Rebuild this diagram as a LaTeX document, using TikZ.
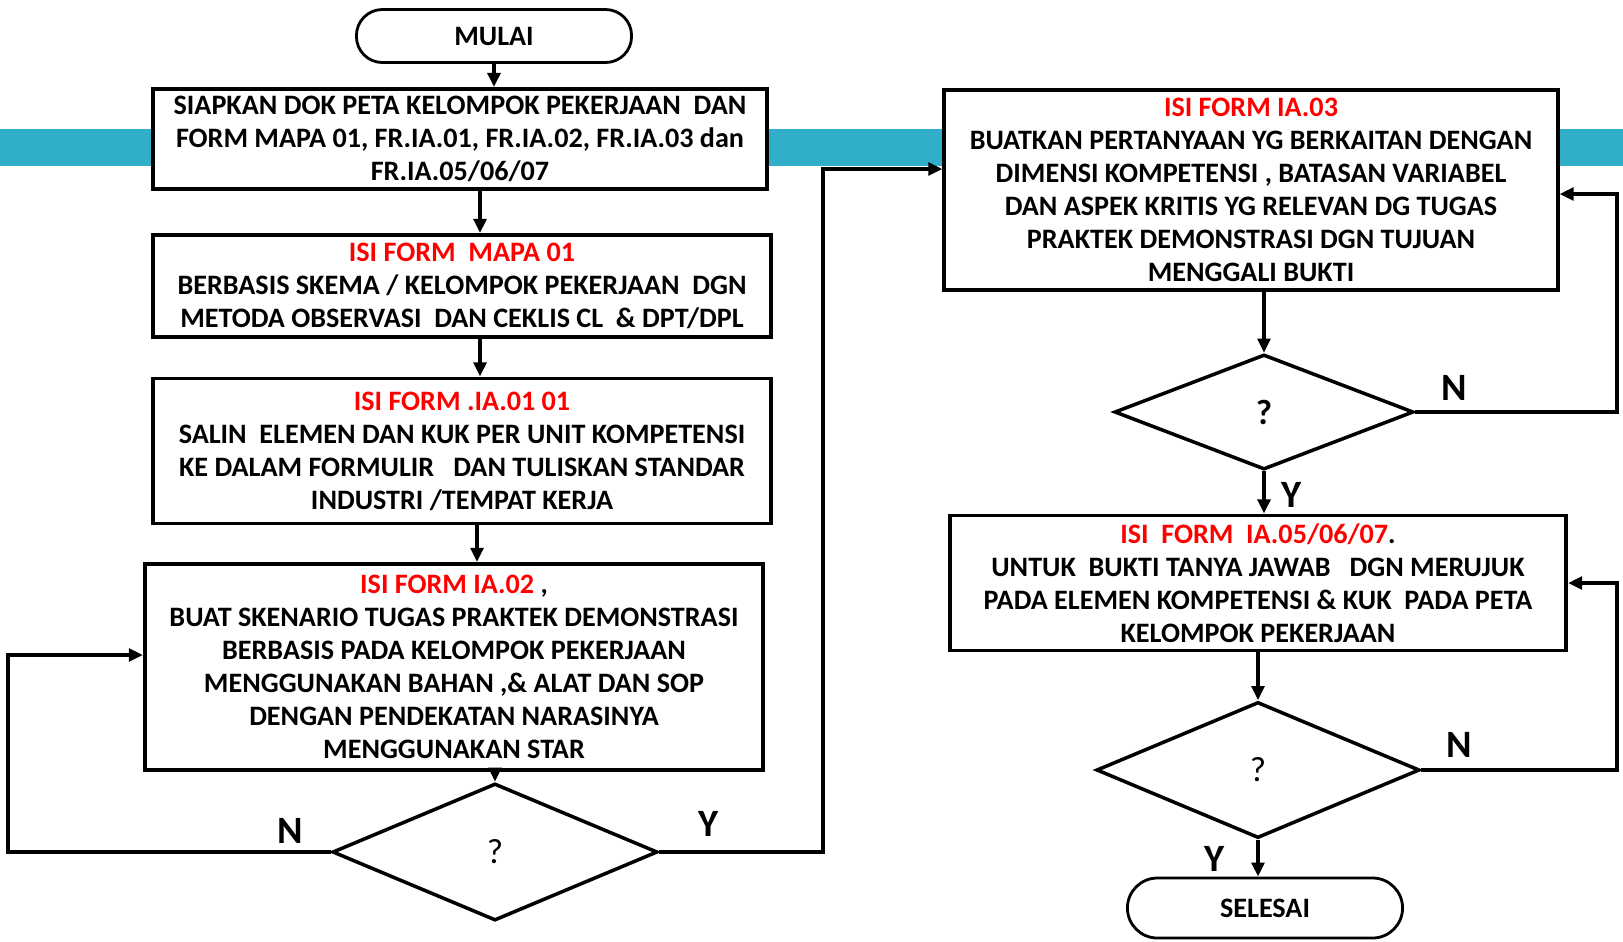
\documentclass[tikz,border=0pt]{standalone}
\usepackage{fontspec}
\setmainfont{Carlito}
\usetikzlibrary{shapes.geometric,arrows.meta}

\definecolor{bandblue}{RGB}{49,174,202}
\newcommand{\red}[1]{\textcolor{red}{#1}}

\tikzstyle{stepbox} = [draw,line width=1.1pt,fill=white,inner sep=0pt,align=center,font=\fontsize{8}{9.4}\selectfont\bfseries]
\tikzstyle{terminal} = [draw,line width=0.8pt,fill=white,rounded corners=0.26cm,inner sep=0pt,font=\fontsize{8}{9}\selectfont\bfseries]
\tikzstyle{decision} = [diamond,draw,line width=1pt,fill=white,inner sep=0pt,font=\fontsize{10}{10}\selectfont]
\tikzstyle{answer} = [font=\fontsize{11}{12}\selectfont\bfseries]
\tikzstyle{link} = [->,>={Triangle[length=4pt,width=3.6pt]},line width=1pt]

\begin{document}
\begin{tikzpicture}[x=0.01cm,y=-0.01cm]
		\useasboundingbox (0,0) rectangle (1623,941);
		\fill[bandblue] (0,129) rectangle (1623,166);

		\node[terminal,minimum width=2.75cm,minimum height=0.53cm] (start) at (494,36) {MULAI};
		\node[stepbox,minimum width=6.14cm,minimum height=1.00cm] (b1) at (460,139) {SIAPKAN DOK PETA KELOMPOK PEKERJAAN~~DAN\\FORM MAPA 01, FR.IA.01, FR.IA.02, FR.IA.03 dan\\FR.IA.05/06/07};
		\node[stepbox,minimum width=6.18cm,minimum height=1.02cm] (b2) at (462,286) {\red{ISI FORM~~MAPA 01}\\BERBASIS SKEMA / KELOMPOK PEKERJAAN~~DGN\\METODA OBSERVASI~~DAN CEKLIS CL~~\& DPT/DPL};
		\node[stepbox,minimum width=6.18cm,minimum height=1.45cm] (b3) at (462,451) {\red{ISI FORM .IA.01 01}\\SALIN~~ELEMEN DAN KUK PER UNIT KOMPETENSI\\KE DALAM FORMULIR~~~DAN TULISKAN STANDAR\\INDUSTRI /TEMPAT KERJA};
		\node[stepbox,minimum width=6.18cm,minimum height=2.06cm] (b4) at (454,667) {\red{ISI FORM IA.02} ,\\BUAT SKENARIO TUGAS PRAKTEK DEMONSTRASI\\BERBASIS PADA KELOMPOK PEKERJAAN\\MENGGUNAKAN BAHAN ,\& ALAT DAN SOP\\DENGAN PENDEKATAN NARASINYA\\MENGGUNAKAN STAR};
		\node[decision,minimum width=3.25cm,minimum height=1.37cm] (d1) at (495,852) {?};

		\node[stepbox,minimum width=6.13cm,minimum height=2.00cm] (b5) at (1251,190) {\red{ISI FORM IA.03}\\BUATKAN PERTANYAAN YG BERKAITAN DENGAN\\DIMENSI KOMPETENSI , BATASAN VARIABEL\\DAN ASPEK KRITIS YG RELEVAN DG TUGAS\\PRAKTEK DEMONSTRASI DGN TUJUAN\\MENGGALI BUKTI};
		\node[decision,minimum width=2.99cm,minimum height=1.15cm,font=\fontsize{10}{10}\selectfont\bfseries] (d2) at (1264,412) {?};
		\node[stepbox,minimum width=6.16cm,minimum height=1.35cm] (b6) at (1258,583) {\red{ISI~~FORM~~IA.05/06/07}.\\UNTUK~~BUKTI TANYA JAWAB~~~DGN MERUJUK\\PADA ELEMEN KOMPETENSI \& KUK~~PADA PETA\\KELOMPOK PEKERJAAN};
		\node[decision,minimum width=3.23cm,minimum height=1.36cm] (d3) at (1258,770) {?};
		\node[terminal,minimum width=2.75cm,minimum height=0.60cm,rounded corners=0.3cm] (stop) at (1265,908) {SELESAI};

		\coordinate (lp) at (8,655);
		\coordinate (rp) at (823,169);
		\coordinate (n2) at (1617,194);
		\coordinate (n3) at (1617,583);

		\draw[link] (start.south) -- (start.south |- b1.north);
		\draw[link] ([xshift=0.2cm]b1.south) -- ([xshift=0.2cm]b1.south |- b2.north);
		\draw[link] ([xshift=0.18cm]b2.south) -- ([xshift=0.18cm]b2.south |- b3.north);
		\draw[link] ([xshift=0.15cm]b3.south) -- ([xshift=0.15cm]b3.south |- b4.north);
		\draw[link] (d1.north |- b4.south) -- (d1.north);
		\draw[link] (d1.west) -| (lp) -- (lp -| b4.west);
		\draw[link] (d1.east) -| (rp) -- (rp -| b5.west);
		\draw[link] (b5.south -| d2.north) -- (d2.north);
		\draw[link] (d2.east) -| (n2) -- (n2 -| b5.east);
		\draw[link] (d2.south) -- (d2.south |- b6.north);
		\draw[link] (b6.south -| d3.north) -- (d3.north);
		\draw[link] (d3.east) -| (n3) -- (n3 -| b6.east);
		\draw[link] (d3.south) -- (d3.south |- stop.north);

		\node[answer] (n1lab) at (290,831) {N};
		\node[answer] (y1lab) at (709,824) {Y};
		\node[answer] (n2lab) at (1454,388) {N};
		\node[answer] (y2lab) at (1292,495) {Y};
		\node[answer] (n3lab) at (1459,745) {N};
		\node[answer] (y3lab) at (1215,859) {Y};
\end{tikzpicture}
\end{document}
